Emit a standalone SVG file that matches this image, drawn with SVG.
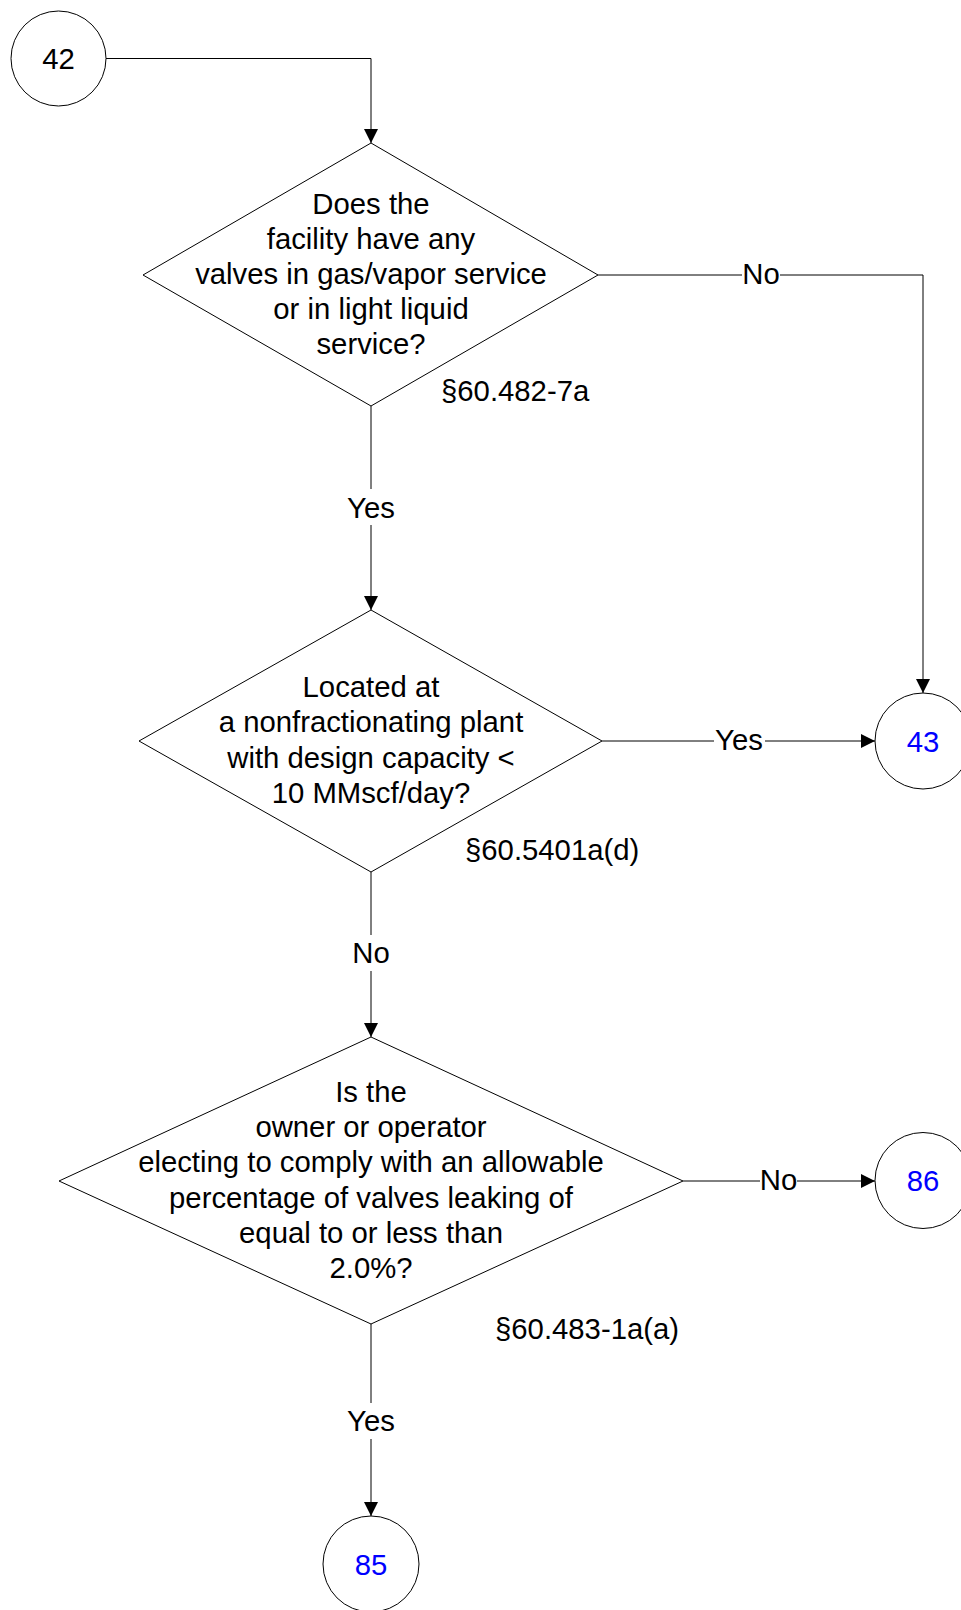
<svg xmlns="http://www.w3.org/2000/svg" width="961" height="1610" viewBox="0 0 961 1610">
<style>
.shape{fill:#fff;stroke:#000;stroke-width:1}
.t{font-family:"Liberation Sans",Arial,sans-serif;font-size:29.3px;fill:#000;text-anchor:middle}
.ref{font-family:"Liberation Sans",Arial,sans-serif;font-size:29.3px;fill:#000;text-anchor:start}
.blue{fill:#0000ff}
.conn{fill:none;stroke:#000;stroke-width:1}
.lblbg{fill:#fff;stroke:none}
</style>
<defs>
<marker id="arrow" markerUnits="userSpaceOnUse" markerWidth="14" markerHeight="14" refX="14" refY="7" orient="auto" viewBox="0 0 14 14">
<path d="M0,0 L14,7 L0,14 z" fill="#000"/>
</marker>
</defs>
<rect width="961" height="1610" fill="#fff"/>
<g id="connectors">
<path class="conn" d="M106,58.5 H371 V143" marker-end="url(#arrow)"/>
<path class="conn" d="M598,275 H923 V693" marker-end="url(#arrow)"/>
<path class="conn" d="M371,406 V610" marker-end="url(#arrow)"/>
<path class="conn" d="M602,741 H875" marker-end="url(#arrow)"/>
<path class="conn" d="M371,872 V1037" marker-end="url(#arrow)"/>
<path class="conn" d="M683,1181 H875" marker-end="url(#arrow)"/>
<path class="conn" d="M371,1324 V1516" marker-end="url(#arrow)"/>
<rect class="lblbg" x="742" y="262" width="38" height="26"/>
<text class="t" x="761" y="284">No</text>
<rect class="lblbg" x="345" y="489" width="52" height="36"/>
<text class="t" x="371" y="517.7">Yes</text>
<rect class="lblbg" x="714" y="728" width="51" height="26"/>
<text class="t" x="739" y="750">Yes</text>
<rect class="lblbg" x="352" y="935" width="38" height="36"/>
<text class="t" x="371" y="963.3">No</text>
<rect class="lblbg" x="760" y="1168" width="37" height="26"/>
<text class="t" x="778.5" y="1190">No</text>
<rect class="lblbg" x="345" y="1403" width="52" height="36"/>
<text class="t" x="371" y="1431">Yes</text>
</g>
<g id="node42">
<circle class="shape" cx="58.5" cy="58.5" r="47.5"/>
<text class="t" x="58.5" y="69">42</text>
</g>
<g id="decision1">
<polygon class="shape" points="371,143 598,275 371,406 143,275"/>
<text class="t" x="371" y="213.5">Does the</text>
<text class="t" x="371" y="248.7">facility have any</text>
<text class="t" x="371" y="283.9">valves in gas/vapor service</text>
<text class="t" x="371" y="319.1">or in light liquid</text>
<text class="t" x="371" y="354.3">service?</text>
<text class="ref" x="441" y="401">§60.482-7a</text>
</g>
<g id="decision2">
<polygon class="shape" points="371,610 602,741 371,872 139,741"/>
<text class="t" x="371" y="697.1">Located at</text>
<text class="t" x="371" y="732.3">a nonfractionating plant</text>
<text class="t" x="371" y="767.5">with design capacity &lt;</text>
<text class="t" x="371" y="802.7">10 MMscf/day?</text>
<text class="ref" x="465" y="860">§60.5401a(d)</text>
</g>
<g id="decision3">
<polygon class="shape" points="371,1037 683,1181 371,1324 59,1181"/>
<text class="t" x="371" y="1101.9">Is the</text>
<text class="t" x="371" y="1137.1">owner or operator</text>
<text class="t" x="371" y="1172.3">electing to comply with an allowable</text>
<text class="t" x="371" y="1207.5">percentage of valves leaking of</text>
<text class="t" x="371" y="1242.7">equal to or less than</text>
<text class="t" x="371" y="1277.9">2.0%?</text>
<text class="ref" x="495" y="1339">§60.483-1a(a)</text>
</g>
<g id="node43">
<circle class="shape" cx="923" cy="741" r="48"/>
<text class="t blue" x="923" y="751.5">43</text>
</g>
<g id="node86">
<circle class="shape" cx="923" cy="1180.5" r="48"/>
<text class="t blue" x="923" y="1191">86</text>
</g>
<g id="node85">
<circle class="shape" cx="371" cy="1564" r="48"/>
<text class="t blue" x="371" y="1574.5">85</text>
</g>
</svg>
